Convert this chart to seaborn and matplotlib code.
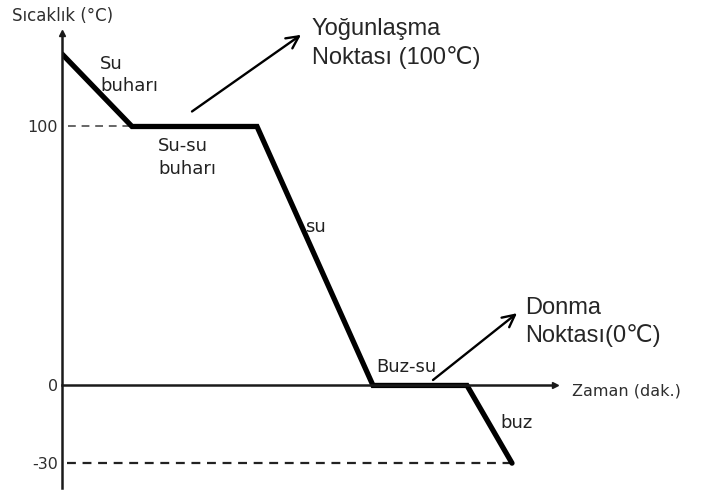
import matplotlib
matplotlib.use('Agg')
import matplotlib.pyplot as plt
import seaborn as sns

# Cooling curve of water
time_min = [0, 7, 19.5, 31.1, 40.5, 45]
temp_c = [128, 100, 100, 0, 0, -30]
ytick_values = [100, 0, -30]
ytick_labels = ['100', '0', '-30']
phase_labels = ['Su\nbuharı', 'Su-su\nbuharı', 'su', 'Buz-su', 'buz']
condense_text = 'Yoğunlaşma\nNoktası (100℃)'
freeze_text = 'Donma\nNoktası(0℃)'

sns.set_style('white')
plt.rcParams['font.family'] = ['DejaVu Sans']

W, H = 706, 492
fig = plt.figure(figsize=(W / 100, H / 100), dpi=100)
ax = fig.add_axes([62 / W, 4 / H, 493 / W, 455 / H])

# reference lines at 100 and -30
ax.plot([0.6, time_min[1]], [100, 100], color='#666666', lw=1.4,
        linestyle=(0, (4, 3)))
ax.plot([0.5, time_min[-1]], [-30, -30], color='#222222', lw=1.6,
        linestyle=(0, (4, 3)))

sns.lineplot(x=time_min, y=temp_c, color='black', linewidth=3.8,
             sort=False, ax=ax, solid_joinstyle='miter')

ax.set_xlim(0, 49.3)
ax.set_ylim(-39.6, 136.1)

# axes drawn as arrows through the origin
for side in ['top', 'right']:
    ax.spines[side].set_visible(False)
ax.spines['left'].set_position(('data', 0))
ax.spines['bottom'].set_position(('data', 0))
for side in ['left', 'bottom']:
    ax.spines[side].set_linewidth(1.8)
    ax.spines[side].set_color('#1a1a1a')
ax.plot(0, 1, '^', color='#1a1a1a', ms=5, transform=ax.transAxes, clip_on=False)
ax.plot(1, 0, '>', color='#1a1a1a', ms=5, transform=ax.get_yaxis_transform(),
        clip_on=False)

ax.set_xticks([])
ax.set_yticks(ytick_values, ytick_labels)
ax.tick_params(axis='y', length=0, pad=3, labelsize=11.5, labelcolor='#2e2e2e')

fig.text(12 / W, 1 - 16 / H, 'Sıcaklık (°C)', fontsize=12, color='#2e2e2e',
         va='center', ha='left')
fig.text(572 / W, 1 - 391 / H, 'Zaman (dak.)', fontsize=11.5, color='#2e2e2e',
         va='center', ha='left')

# phase labels
label_pos = [(3.8, 120), (9.6, 88), (24.3, 61), (31.4, 7), (43.8, -14.5)]
for txt, (x, y) in zip(phase_labels, label_pos):
    ax.text(x, y, txt, fontsize=13, color='#222222', va='center', ha='left',
            linespacing=1.3)

# condensation / freezing point callouts
arrow = dict(arrowstyle='->', lw=1.7, color='black', mutation_scale=22,
             shrinkA=0, shrinkB=0)
ax.annotate('', xy=(23.9, 135.4), xytext=(13, 105.8), arrowprops=arrow,
            annotation_clip=False)
ax.annotate('', xy=(45.5, 27.9), xytext=(37.1, 2.1), arrowprops=arrow,
            annotation_clip=False)
ax.text(25, 132, condense_text, fontsize=17, va='center', ha='left',
        family=['Liberation Sans', 'DejaVu Sans'], linespacing=1.3,
        clip_on=False)
ax.text(46.3, 24.5, freeze_text, fontsize=17, va='center', ha='left',
        family=['Liberation Sans', 'DejaVu Sans'], linespacing=1.3,
        clip_on=False)

fig.savefig('out.png', dpi=100)
